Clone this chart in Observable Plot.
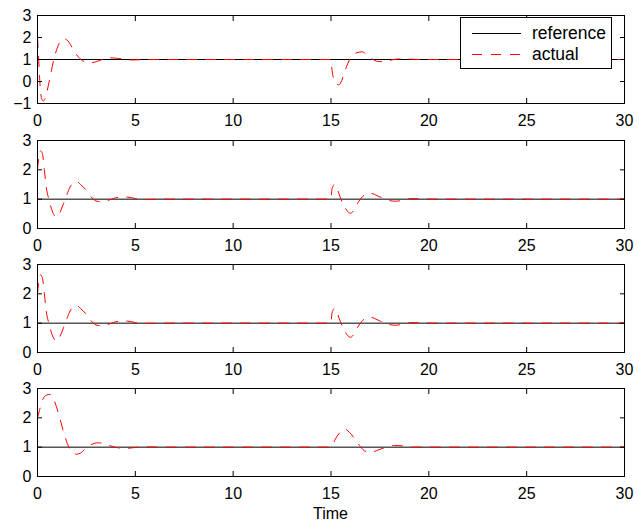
<!DOCTYPE html>
<html><head><meta charset="utf-8">
<script src="https://cdn.jsdelivr.net/npm/d3@7"></script>
<script src="https://cdn.jsdelivr.net/npm/@observablehq/plot@0.6"></script>
<style>
body{margin:0;background:#fff;}
#chart{position:relative;width:639px;height:527px;font-family:"Liberation Sans",Arial,sans-serif;color:#000;}
#chart svg{position:absolute;left:0;overflow:visible;}
#legend{position:absolute;left:460px;top:17px;width:150px;height:50px;border:1px solid #000;background:#fff;font-size:17.5px;}
#legend .row{position:absolute;left:0;height:20px;width:150px;}
#legend .row svg{position:absolute;left:11px;top:0;overflow:visible;}
#legend .row span{position:absolute;left:71px;top:0;line-height:20px;}
#xlabel{position:absolute;top:506px;left:0;width:639px;text-align:center;font-size:16px;line-height:16px;}
#xlabel span{position:absolute;left:330.5px;transform:translateX(-50%);}
</style></head><body><div id="chart"></div>
<script>
// ---- data ----
const xTicks = [0, 5, 10, 15, 20, 25, 30];
const yTicksTop = [-1, 0, 1, 2, 3];
const yTicks = [0, 1, 2, 3];
const seriesNames = ["reference", "actual"];
const xLabel = "Time";

const refTime = [0, 30];
const refValue = [1, 1];

const time1 = [0, 0.05, 0.1, 0.15, 0.22, 0.3, 0.4, 0.55, 0.7, 0.85, 1.0, 1.15, 1.35, 1.55, 1.8, 2.1, 2.4, 2.7, 3.0, 3.3, 3.65, 4.0, 4.4, 4.8, 5.3, 6, 15, 15.03, 15.14, 15.25, 15.4, 15.55, 15.7, 15.85, 16.05, 16.3, 16.6, 16.85, 17.1, 17.4, 17.7, 18.0, 18.4, 18.9, 19.5, 30];
const actual1 = [2.0, 1.2, 0.3, -0.4, -0.8, -0.88, -0.75, -0.2, 0.45, 1.05, 1.5, 1.8, 1.95, 1.85, 1.5, 1.1, 0.9, 0.85, 0.9, 1.0, 1.08, 1.06, 1.02, 0.98, 0.99, 1.0, 1.0, 0.7, 0.1, -0.08, -0.15, 0.05, 0.45, 0.8, 1.15, 1.3, 1.35, 1.2, 1.03, 0.91, 0.9, 0.96, 1.02, 1.02, 1.0, 1.0];

const time2 = [0, 0.07, 0.15, 0.25, 0.35, 0.45, 0.6, 0.75, 0.9, 1.0, 1.15, 1.33, 1.5, 1.67, 1.85, 2.0, 2.2, 2.5, 2.85, 3.1, 3.35, 3.7, 4.1, 4.6, 5.0, 5.5, 6.5, 15, 15.05, 15.18, 15.3, 15.45, 15.65, 15.85, 16.0, 16.15, 16.35, 16.6, 16.85, 17.05, 17.35, 17.7, 18.0, 18.3, 18.7, 19.1, 19.6, 20.5, 30];
const actual2 = [2.0, 2.45, 2.65, 2.55, 2.0, 1.4, 0.95, 0.6, 0.42, 0.4, 0.55, 0.85, 1.15, 1.42, 1.57, 1.6, 1.5, 1.3, 1.0, 0.92, 0.91, 0.98, 1.06, 1.07, 1.02, 0.99, 1.0, 1.0, 1.35, 1.5, 1.38, 1.1, 0.8, 0.58, 0.52, 0.6, 0.85, 1.08, 1.19, 1.2, 1.12, 1.02, 0.95, 0.93, 0.97, 1.02, 1.01, 1.0, 1.0];

const time3 = [0, 0.07, 0.15, 0.25, 0.35, 0.45, 0.6, 0.75, 0.9, 1.0, 1.15, 1.33, 1.5, 1.67, 1.85, 2.0, 2.2, 2.5, 2.85, 3.1, 3.35, 3.7, 4.1, 4.6, 5.0, 5.5, 6.5, 15, 15.05, 15.18, 15.3, 15.45, 15.65, 15.85, 16.0, 16.15, 16.35, 16.6, 16.85, 17.05, 17.35, 17.7, 18.0, 18.3, 18.7, 19.1, 19.6, 20.5, 30];
const actual3 = [2.0, 2.45, 2.65, 2.55, 2.0, 1.4, 0.95, 0.6, 0.42, 0.4, 0.55, 0.85, 1.15, 1.42, 1.57, 1.6, 1.5, 1.3, 1.0, 0.92, 0.91, 0.98, 1.06, 1.07, 1.02, 0.99, 1.0, 1.0, 1.35, 1.5, 1.38, 1.1, 0.8, 0.58, 0.52, 0.6, 0.85, 1.08, 1.19, 1.2, 1.12, 1.02, 0.95, 0.93, 0.97, 1.02, 1.01, 1.0, 1.0];

const time4 = [0, 0.1, 0.25, 0.45, 0.65, 0.85, 1.05, 1.3, 1.55, 1.75, 2.0, 2.2, 2.45, 2.75, 3.1, 3.4, 3.7, 4.1, 4.5, 5.0, 5.5, 6.5, 15, 15.2, 15.45, 15.7, 15.95, 16.25, 16.5, 16.8, 17.1, 17.4, 17.8, 18.25, 18.7, 19.2, 30];
const actual4 = [2.0, 2.25, 2.6, 2.77, 2.8, 2.6, 2.2, 1.6, 1.08, 0.85, 0.76, 0.8, 0.95, 1.09, 1.15, 1.12, 1.05, 0.98, 0.96, 0.99, 1.01, 1.0, 1.0, 1.25, 1.5, 1.62, 1.5, 1.25, 1.02, 0.85, 0.84, 0.9, 1.0, 1.06, 1.04, 1.0, 1.0];

// ---- build ----
const panels = [
  {time: time1, actual: actual1, domain: [-1, 3], ticks: yTicksTop},
  {time: time2, actual: actual2, domain: [0, 3], ticks: yTicks},
  {time: time3, actual: actual3, domain: [0, 3], ticks: yTicks},
  {time: time4, actual: actual4, domain: [0, 3], ticks: yTicks}
];
const tops = [0, 125, 249, 373];
const chart = document.getElementById("chart");
const refData = refTime.map((t, i) => ({t, v: refValue[i]}));

panels.forEach((p, i) => {
  const data = p.time.map((t, j) => ({t, v: p.actual[j]}));
  const svg = Plot.plot({
    width: 639, height: 124,
    marginTop: 15, marginBottom: 21, marginLeft: 37, marginRight: 15,
    x: {domain: [0, 30]},
    y: {domain: p.domain},
    style: {fontSize: "16px", fontFamily: '"Liberation Sans", Arial, sans-serif', color: "black", background: "transparent"},
    marks: [
      Plot.line(refData, {x: "t", y: "v", stroke: "black", strokeWidth: 1}),
      Plot.line(data, {x: "t", y: "v", stroke: "#ff0000", strokeWidth: 1, strokeDasharray: "10,9", curve: "monotone-x"}),
      Plot.frame({stroke: "black"}),
      Plot.axisX(xTicks, {anchor: "bottom", tickSize: -5, fill: "none", label: null}),
      Plot.axisX(xTicks, {anchor: "top", tickSize: -5, fill: "none", label: null}),
      Plot.axisX(xTicks, {anchor: "bottom", tickSize: 0, tickPadding: 11, label: null}),
      Plot.axisY(p.ticks, {anchor: "left", tickSize: -5, fill: "none", label: null}),
      Plot.axisY(p.ticks, {anchor: "right", tickSize: -5, fill: "none", label: null}),
      Plot.axisY(p.ticks, {anchor: "left", tickSize: 0, tickPadding: 6, label: null})
    ]
  });
  svg.style.top = tops[i] + "px";
  chart.appendChild(svg);
});

// legend
const legend = document.createElement("div");
legend.id = "legend";
legend.innerHTML = `
  <div class="row" style="top:5px"><svg width="49" height="20"><line x1="0" x2="49" y1="10.5" y2="10.5" stroke="black" stroke-width="1"/></svg><span>${seriesNames[0]}</span></div>
  <div class="row" style="top:26px"><svg width="49" height="20"><line x1="0" x2="49" y1="10.5" y2="10.5" stroke="#ff0000" stroke-width="1" stroke-dasharray="10,9"/></svg><span>${seriesNames[1]}</span></div>`;
chart.appendChild(legend);

const xl = document.createElement("div");
xl.id = "xlabel";
xl.innerHTML = `<span>${xLabel}</span>`;
chart.appendChild(xl);
</script></body></html>
